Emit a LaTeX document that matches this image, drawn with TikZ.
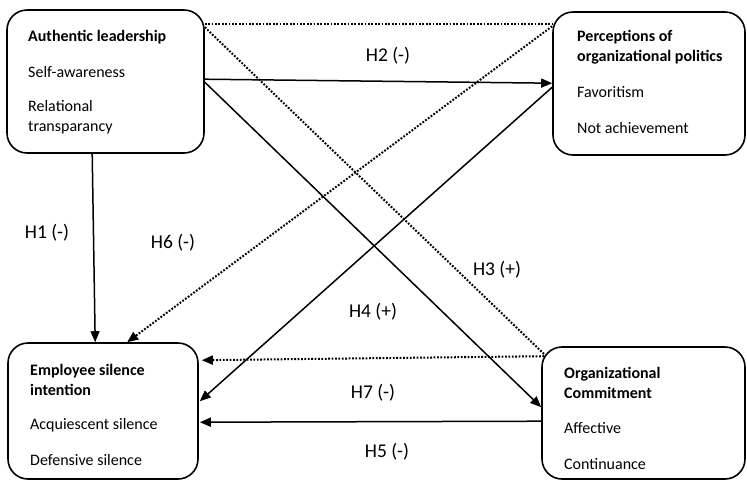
\documentclass[tikz,border=0pt]{standalone}
\usepackage{fontspec}
\setmainfont{Carlito}
\usetikzlibrary{arrows.meta}
\tikzset{
  box/.style={draw, line width=1.6pt, rounded corners=20pt, minimum width=#1, inner sep=0pt},
  txt/.style={anchor=west, align=left, inner sep=0pt, font=\fontsize{16}{20}\selectfont},
  btxt/.style={txt, font=\fontsize{16}{20}\selectfont\bfseries},
  lbl/.style={inner sep=0pt, font=\fontsize{19.5}{22}\selectfont},
  solidcon/.style={line width=1.5pt},
  dotcon/.style={line width=2pt, dash pattern=on 1.8pt off 1.6pt},
  tip/.style={-{Triangle[length=11pt,width=9pt]}},
}
\begin{document}
\begin{tikzpicture}[x=1pt,y=-1pt]
\useasboundingbox (0,0) rectangle (747,483);
% boxes
\node[box=197pt, minimum height=143pt] (AL) at (105.5,81.5) {};
\node[box=192pt, minimum height=143pt] (POP) at (649,83.5) {};
\node[box=190pt, minimum height=136pt] (ESI) at (103,411) {};
\node[box=203pt, minimum height=132pt] (OC) at (643.5,413) {};
% box texts
\node[btxt] (t1) at (28,37) {Authentic leadership};
\node[txt] (t2) at (28,72) {Self-awareness};
\node[txt] (t3) at (28,117) {Relational\\transparancy};
\node[btxt] (t4) at (577,47) {Perceptions of\\organizational politics};
\node[txt] (t5) at (577,92) {Favoritism};
\node[txt] (t6) at (577,128) {Not achievement};
\node[btxt] (t7) at (30,380) {Employee silence\\intention};
\node[txt] (t8) at (30,425) {Acquiescent silence};
\node[txt] (t9) at (30,460) {Defensive silence};
\node[btxt] (t10) at (564,383) {Organizational\\Commitment};
\node[txt] (t11) at (564,428) {Affective};
\node[txt] (t12) at (564,464) {Continuance};
% connectors
\draw[dotcon] ([yshift=-15pt]AL.north east) -- ([yshift=-13pt]POP.north west);
\draw[dotcon] ([yshift=-18pt]AL.north east) -- ([xshift=3pt,yshift=-8pt]OC.north west);
\draw[dotcon,tip] ([yshift=-15pt]POP.north west) -- ([xshift=120pt]ESI.north west);
\draw[dotcon,tip] ([xshift=3pt,yshift=-10pt]OC.north west) -- ([xshift=3pt,yshift=-18pt]ESI.north east);
\draw[solidcon,tip] ([xshift=86pt]AL.south west) -- ([xshift=88pt]ESI.north west);
\draw[solidcon,tip] ([yshift=-70pt]AL.north east) -- ([yshift=-72pt]POP.north west);
\draw[solidcon,tip] ([yshift=-73pt]AL.north east) -- ([yshift=-61pt]OC.north west);
\draw[solidcon,tip] ([yshift=-76pt]POP.north west) -- ([xshift=1pt,yshift=-59pt]ESI.north east);
\draw[solidcon,tip] ([yshift=-75pt]OC.north west) -- ([xshift=1pt,yshift=-80pt]ESI.north east);
% labels
\node[lbl] (h1) at (47,233) {H1 (-)};
\node[lbl] (h2) at (388,56) {H2 (-)};
\node[lbl] (h3) at (497,270) {H3 (+)};
\node[lbl] (h4) at (373,312) {H4 (+)};
\node[lbl] (h5) at (387,452) {H5 (-)};
\node[lbl] (h6) at (173,243) {H6 (-)};
\node[lbl] (h7) at (373,393) {H7 (-)};
\end{tikzpicture}
\end{document}
